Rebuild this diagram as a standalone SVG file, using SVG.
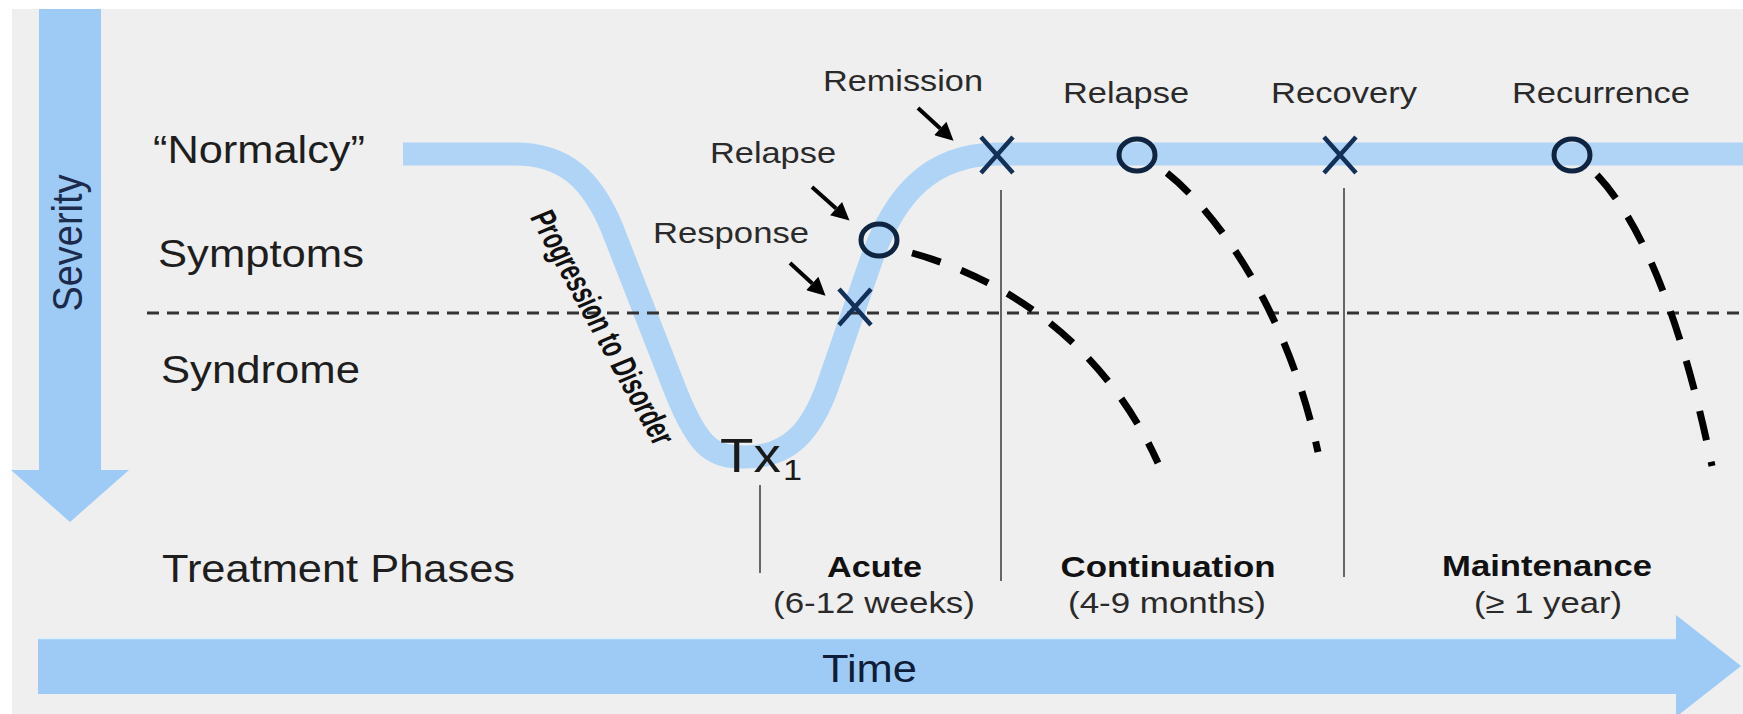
<svg xmlns="http://www.w3.org/2000/svg" width="1743" height="714" viewBox="0 0 1743 714">
<style>
  text { font-family: "Liberation Sans", Arial, sans-serif; }
  .lbl { font-size: 38px; fill: #1e1e1e; }
  .evt { font-size: 30px; fill: #2a2a2a; }
  .ph { font-size: 30px; font-weight: bold; fill: #111; text-anchor: middle; }
  .dur { font-size: 30px; fill: #2a2a2a; text-anchor: middle; }
  .axis { fill: #9ecbf6; }
  .course { fill: none; stroke: #afd4f5; stroke-width: 23; stroke-linejoin: round; }
  .thr { fill: none; stroke: #333; stroke-width: 3; stroke-dasharray: 12 8; }
  .vl { stroke: #666; stroke-width: 2; }
  .rel { fill: none; stroke: #000; stroke-width: 7; stroke-dasharray: 30 22; }
  .xm { stroke: #123058; stroke-width: 4.5; fill: none; }
  .om { stroke: #0e2440; stroke-width: 5; fill: none; }
  .ptr { stroke: #000; stroke-width: 4; marker-end: url(#head); }
</style>
<defs>
  <marker id="head" viewBox="0 0 10 10" refX="0" refY="5" markerWidth="5" markerHeight="4.5" orient="auto" markerUnits="strokeWidth">
    <path d="M0,0 L10,5 L0,10 z" fill="#000"/>
  </marker>
</defs>

<rect x="0" y="0" width="1743" height="714" fill="#ffffff"/>
<rect x="12" y="9" width="1731" height="705" fill="#efefef"/>

<g id="severity-axis">
  <polygon class="axis" points="39,9 101,9 101,470 129,470 70,522 11,470 39,470"/>
  <text transform="translate(82,243) scale(1.14,1) rotate(-90)" text-anchor="middle" style="font-size:38px;fill:#1c2b4b">Severity</text>
</g>

<g id="time-axis">
  <polygon class="axis" points="38,638 1676,638 1676,615 1741,666 1676,717 1676,694 38,694"/>
  <line x1="38" y1="638.5" x2="1676" y2="638.5" stroke="#dcefff" stroke-width="1.5"/>
  <text x="822" y="682" textLength="95" lengthAdjust="spacingAndGlyphs" style="font-size:38px;fill:#0f1d38">Time</text>
</g>

<g id="course-curve">
  <path class="course" d="M403 154 L515 154 C565 154 592 180 612 228 L676 392 C700 452 715 457 745 457 C790 457 812 430 828 385 L872 258 C895 195 930 155 996 154 L1743 154"/>
</g>

<g id="threshold-line">
  <path class="thr" d="M147 313 H1743"/>
</g>

<g id="phase-dividers">
  <line class="vl" x1="760" y1="485" x2="760" y2="573"/>
  <line class="vl" x1="1001" y1="190" x2="1001" y2="581"/>
  <line class="vl" x1="1344" y1="188" x2="1344" y2="577"/>
</g>

<g id="level-labels">
  <text class="lbl" x="153" y="163" textLength="212" lengthAdjust="spacingAndGlyphs">“Normalcy”</text>
  <text class="lbl" x="158" y="267" textLength="206" lengthAdjust="spacingAndGlyphs">Symptoms</text>
  <text class="lbl" x="161" y="383" textLength="199" lengthAdjust="spacingAndGlyphs">Syndrome</text>
  <text class="lbl" x="162" y="582" textLength="353" lengthAdjust="spacingAndGlyphs">Treatment Phases</text>
</g>

<g id="progression-label">
  <text transform="translate(592,332) scale(1.14,1) rotate(64.5)" text-anchor="middle" textLength="255" lengthAdjust="spacingAndGlyphs" style="font-size:31px;font-weight:bold;fill:#111">Progression to Disorder</text>
</g>

<g id="tx1">
  <text transform="translate(720,472) scale(1.14,1)" style="font-size:48px;fill:#1a1a1a">Tx<tspan dx="2" dy="8" style="font-size:30px">1</tspan></text>
</g>

<g id="connectors">
  <path class="rel" d="M912 253 C995 276 1100 335 1158 463"/>
  <path class="rel" d="M1167 173 C1210 207 1285 300 1318 452"/>
  <path class="rel" d="M1597 175 C1632 212 1676 292 1712 466"/>
  <line class="ptr" x1="918" y1="108" x2="940.3" y2="128.5"/>
  <line class="ptr" x1="812" y1="187" x2="836.1" y2="208.6"/>
  <line class="ptr" x1="790" y1="263" x2="812.3" y2="283.5"/>
</g>

<g id="response">
  <path class="xm" d="M839 289 L871 325 M871 289 L839 325"/>
  <text class="evt" x="653" y="243" textLength="156" lengthAdjust="spacingAndGlyphs">Response</text>
</g>
<g id="relapse-acute">
  <ellipse class="om" cx="879" cy="240" rx="18" ry="16"/>
  <text class="evt" x="710" y="163" textLength="126" lengthAdjust="spacingAndGlyphs">Relapse</text>
</g>
<g id="remission">
  <path class="xm" d="M981 137 L1013 173 M1013 137 L981 173"/>
  <text class="evt" x="823" y="91" textLength="160" lengthAdjust="spacingAndGlyphs">Remission</text>
</g>
<g id="relapse-continuation">
  <ellipse class="om" cx="1137" cy="155" rx="18" ry="16"/>
  <text class="evt" x="1063" y="103" textLength="126" lengthAdjust="spacingAndGlyphs">Relapse</text>
</g>
<g id="recovery">
  <path class="xm" d="M1324 137 L1356 173 M1356 137 L1324 173"/>
  <text class="evt" x="1271" y="103" textLength="146" lengthAdjust="spacingAndGlyphs">Recovery</text>
</g>
<g id="recurrence">
  <ellipse class="om" cx="1572" cy="155" rx="18" ry="16"/>
  <text class="evt" x="1512" y="103" textLength="178" lengthAdjust="spacingAndGlyphs">Recurrence</text>
</g>

<g id="phase-acute">
  <text class="ph" x="874.5" y="577" textLength="95" lengthAdjust="spacingAndGlyphs">Acute</text>
  <text class="dur" x="874" y="613" textLength="202" lengthAdjust="spacingAndGlyphs">(6-12 weeks)</text>
</g>
<g id="phase-continuation">
  <text class="ph" x="1168" y="577" textLength="215" lengthAdjust="spacingAndGlyphs">Continuation</text>
  <text class="dur" x="1167" y="613" textLength="198" lengthAdjust="spacingAndGlyphs">(4-9 months)</text>
</g>
<g id="phase-maintenance">
  <text class="ph" x="1547" y="576" textLength="210" lengthAdjust="spacingAndGlyphs">Maintenance</text>
  <text class="dur" x="1548" y="613" textLength="148" lengthAdjust="spacingAndGlyphs">(≥ 1 year)</text>
</g>
</svg>
